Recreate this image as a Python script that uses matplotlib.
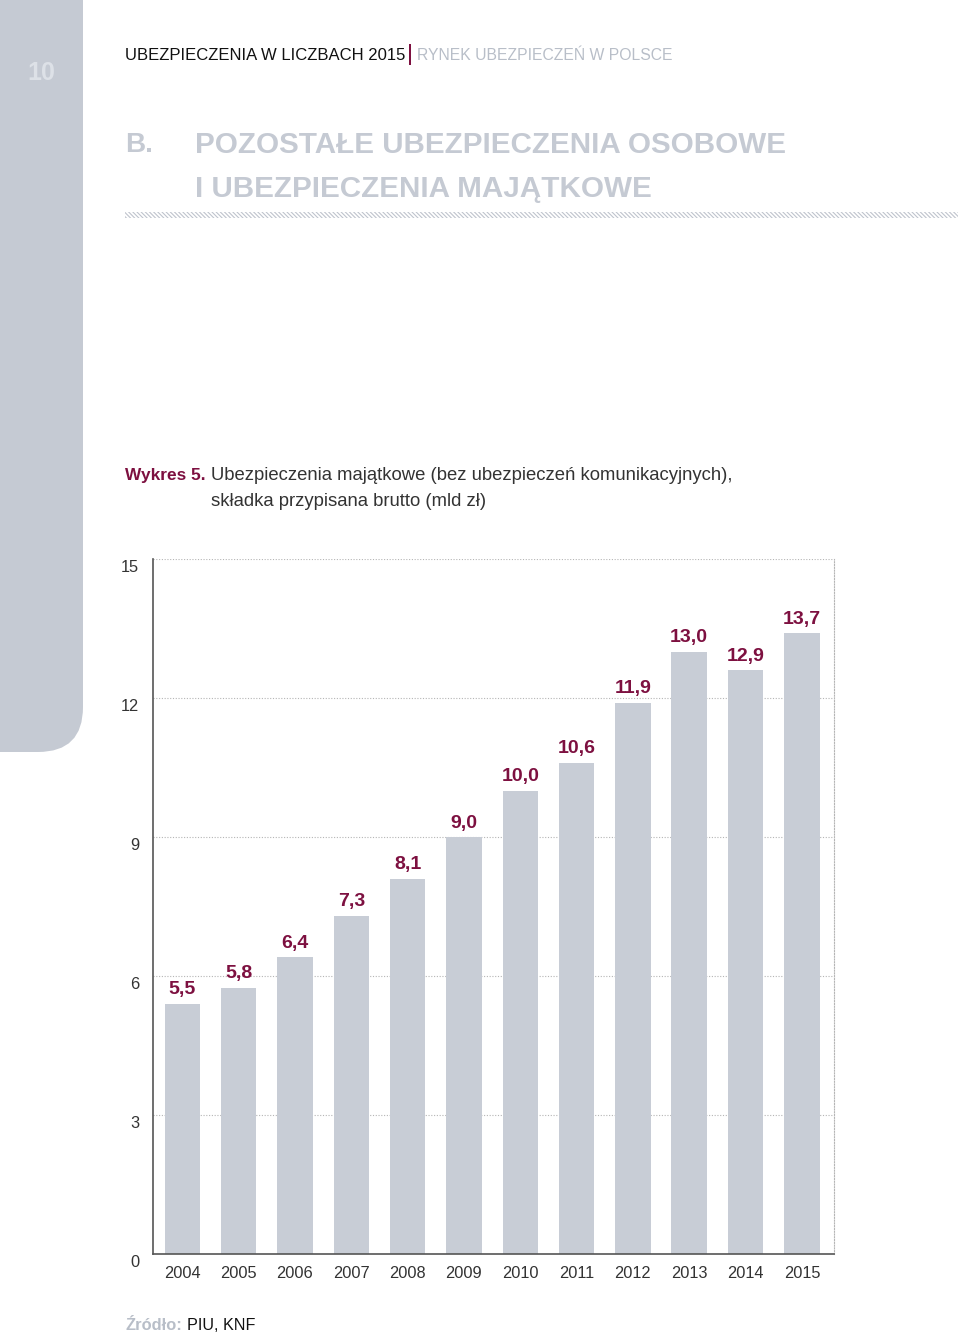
import matplotlib
matplotlib.use("Agg")
import matplotlib.pyplot as plt
from matplotlib.patches import Rectangle, FancyBboxPatch
from matplotlib.transforms import ScaledTranslation

years = ["2004", "2005", "2006", "2007", "2008", "2009",
         "2010", "2011", "2012", "2013", "2014", "2015"]
# bar heights as drawn in the source, and the printed value labels
bar_heights = [5.4, 5.75, 6.4, 7.3, 8.1, 9.0, 10.0, 10.6, 11.9, 13.0, 12.6, 13.4]
value_labels = ["5,5", "5,8", "6,4", "7,3", "8,1", "9,0",
                "10,0", "10,6", "11,9", "13,0", "12,9", "13,7"]
yticks = [0, 3, 6, 9, 12, 15]

BAR = "#c8cdd6"
MAROON = "#7d1040"
LIGHT = "#c5cad3"
DARK = "#333333"
FONT = ["Liberation Sans", "DejaVu Sans"]

fig = plt.figure(figsize=(9.6, 13.37), dpi=100)
W, H = 960, 1337
renderer = fig.canvas.get_renderer()


def fx(px):
    return px / W


def fy(py):
    return 1 - py / H


def fit(t, width_px):
    # scale font so the text spans the same width as in the source
    w = t.get_window_extent(renderer).width
    t.set_fontsize(t.get_fontsize() * width_px / w)
    return t


# side tab with rounded bottom-right corner
tab = FancyBboxPatch((-1.0, 13.37 - 7.52), 1.83, 10,
                     boxstyle="round,pad=0,rounding_size=0.45",
                     transform=fig.dpi_scale_trans, facecolor=LIGHT,
                     edgecolor="none", zorder=0)
fig.patches.append(tab)
fig.text(fx(41), fy(73), "10", color="#dde1e7", fontsize=18, fontweight="bold",
         ha="center", va="center", family=FONT)

# page header
t1 = fig.text(fx(125), fy(55), "UBEZPIECZENIA W LICZBACH 2015", color="#111111",
              fontsize=12, ha="left", va="center", family=FONT)
fit(t1, 279)
fig.patches.append(Rectangle((fx(409), fy(65)), fx(1.6), 21 / H,
                             transform=fig.transFigure, facecolor=MAROON,
                             edgecolor="none"))
t2 = fig.text(fx(417), fy(55), "RYNEK UBEZPIECZEŃ W POLSCE", color="#b8bec8",
              fontsize=12, ha="left", va="center", family=FONT)
fit(t2, 256)

# section title
tb = fig.text(fx(125), fy(145), "B.", color=LIGHT, fontsize=22, fontweight="bold",
              ha="left", va="center", family=FONT)
fit(tb, 28)
ta = fig.text(fx(195), fy(145), "POZOSTAŁE UBEZPIECZENIA OSOBOWE", color=LIGHT,
              fontsize=22, fontweight="bold", ha="left", va="center", family=FONT)
fit(ta, 590)
fig.text(fx(195), fy(189), "I UBEZPIECZENIA MAJĄTKOWE", color=LIGHT,
         fontsize=ta.get_fontsize(), fontweight="bold", ha="left", va="center",
         family=FONT)
plt.rcParams["hatch.linewidth"] = 0.8
fig.patches.append(Rectangle((fx(125), fy(218)), fx(833), 6 / H,
                             transform=fig.transFigure, facecolor="none",
                             edgecolor="#bfc4cd", linewidth=0,
                             hatch="\\" * 8))

# chart caption
tw = fig.text(fx(125), fy(476), "Wykres 5.", color=MAROON, fontsize=13,
              fontweight="bold", ha="left", va="center", family=FONT)
fit(tw, 80)
tc = fig.text(fx(211), fy(476),
              "Ubezpieczenia majątkowe (bez ubezpieczeń komunikacyjnych),",
              color=DARK, fontsize=13, ha="left", va="center", family=FONT)
fit(tc, 522)
fig.text(fx(211), fy(502), "składka przypisana brutto (mld zł)",
         color=DARK, fontsize=tc.get_fontsize(), ha="left", va="center", family=FONT)

# source
ts = fig.text(fx(125), fy(1325), "Źródło:", color="#b8bec8", fontsize=13,
              fontweight="bold", ha="left", va="center", family=FONT)
fit(ts, 57)
tk = fig.text(fx(187), fy(1325), "PIU, KNF", color="#111111", fontsize=13,
              ha="left", va="center", family=FONT)
fit(tk, 68)

# chart
ax = fig.add_axes([fx(153), fy(1254), fx(834 - 153), (1254 - 559) / H])
x = list(range(len(years)))
ax.bar(x, bar_heights, width=0.63, color=BAR, zorder=2)
for xi, v, lab in zip(x, bar_heights, value_labels):
    ax.annotate(lab, (xi, v), xytext=(0, 10),
                textcoords="offset points", ha="center", va="center",
                color=MAROON, fontsize=14, fontweight="bold", family=FONT)

ax.set_xlim(-0.52, 11.57)
ax.set_ylim(0, 15)
ax.set_yticks(yticks)
ax.set_yticklabels([str(v) for v in yticks], family=FONT)
ax.set_xticks(x)
ax.set_xticklabels(years, family=FONT)
ax.tick_params(axis="both", length=0, labelsize=11.8, colors=DARK)
ax.tick_params(axis="y", pad=10)
ax.tick_params(axis="x", pad=9)
for lab in ax.get_yticklabels():
    lab.set_transform(lab.get_transform() + ScaledTranslation(0, -5 / 72, fig.dpi_scale_trans))

for v in yticks[1:]:
    ax.axhline(v, color="#b5b5b5", linestyle=(0, (1, 1.5)), linewidth=0.8, zorder=1)

ax.spines["top"].set_visible(False)
ax.spines["right"].set_linestyle((0, (1, 1.5)))
ax.spines["right"].set_color("#b5b5b5")
ax.spines["right"].set_linewidth(0.8)
ax.spines["left"].set_color("#555555")
ax.spines["bottom"].set_color("#555555")
ax.spines["left"].set_linewidth(1.2)
ax.spines["bottom"].set_linewidth(1.2)
ax.spines["left"].set_zorder(3)
ax.spines["bottom"].set_zorder(3)

fig.savefig("out.png", dpi=100)
